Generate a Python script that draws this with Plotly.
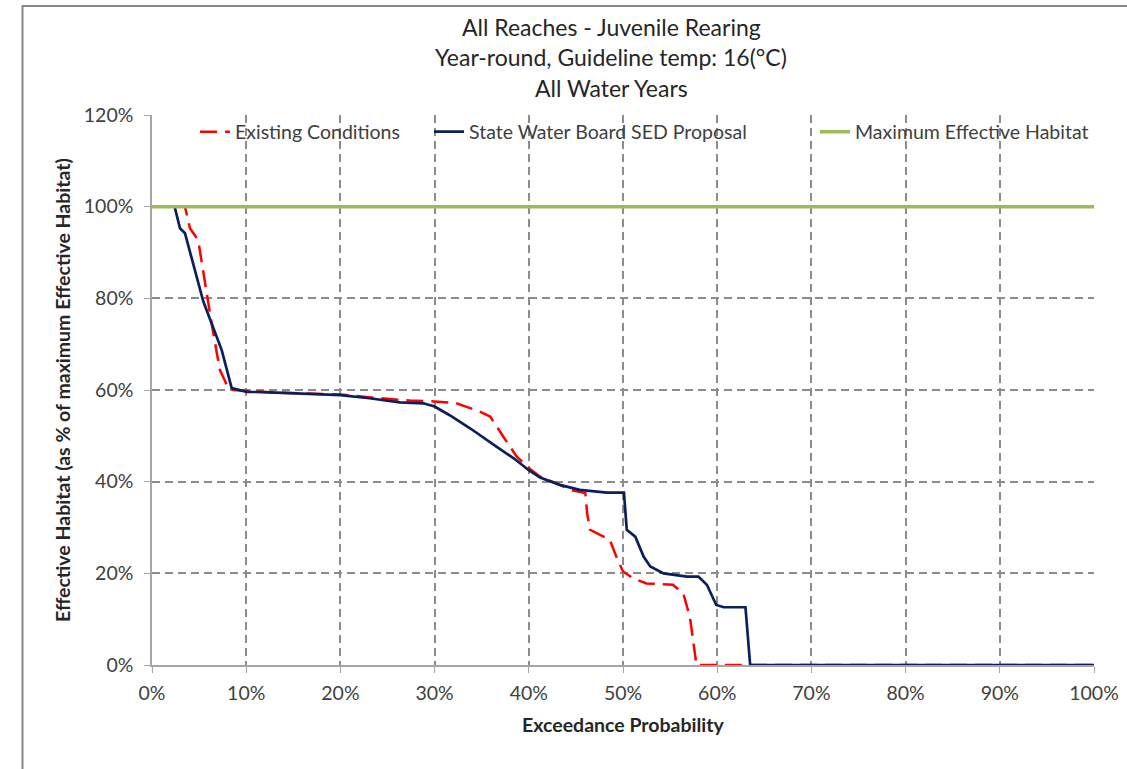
import plotly.graph_objects as go

# ---- data (exceedance probability %, effective habitat %) ----
existing_x = [0, 3.5, 4.03, 4.9, 6.33, 7.2, 8.1, 8.6, 12.5, 20, 24.2, 27.4, 30, 32.3, 34.8, 35.9,
              37.3, 38.7, 40, 41.2, 43.3, 44.4, 46.0, 46.2, 46.5, 47.6, 48.6, 49.3, 50, 51.1, 52.5,
              55.3, 56.4, 57.1, 57.8, 100]
existing_y = [100, 100, 95.3, 92.7, 74.5, 64.4, 60.4, 60.0, 59.5, 59.0, 58.2, 57.7, 57.5, 57.1, 55.3, 54.2,
              49.8, 45.5, 43.0, 41.1, 39.3, 38.2, 37.5, 33.0, 29.5, 28.4, 27.3, 23.6, 20.4, 18.9, 17.8,
              17.5, 15.6, 10.5, 0, 0]

sed_x = [0, 2.4, 2.97, 3.5, 5.45, 6.33, 7.4, 8.46, 10.05, 12.5, 20, 23.1, 26.3, 28.8, 30, 31.6, 33.8,
         36.6, 38.4, 40, 41.2, 43.3, 45.4, 48.3, 50.1, 50.4, 51.3, 52.2, 52.9, 54.3, 56.8, 58, 58.9,
         59.9, 60.7, 63.0, 63.5, 100]
sed_y = [100, 100, 95.3, 94.2, 79.3, 74.5, 68.7, 60.4, 59.6, 59.5, 58.9, 58.2, 57.3, 57.1, 56.4, 54.5, 51.6,
         47.6, 45.1, 42.5, 40.9, 39.3, 38.2, 37.6, 37.6, 29.5, 28.0, 23.6, 21.5, 20.0, 19.3, 19.3, 17.5,
         13.1, 12.6, 12.6, 0, 0]

max_x = [0, 100]
max_y = [100, 100]

x_ticks = [0, 10, 20, 30, 40, 50, 60, 70, 80, 90, 100]
x_tick_labels = ["0%", "10%", "20%", "30%", "40%", "50%", "60%", "70%", "80%", "90%", "100%"]
y_ticks = [0, 20, 40, 60, 80, 100, 120]
y_tick_labels = ["0%", "20%", "40%", "60%", "80%", "100%", "120%"]

title_lines = ["All Reaches - Juvenile Rearing", "Year-round, Guideline temp: 16(°C)", "All Water Years"]

FONT = "Lato"
TXT = "#404040"

fig = go.Figure()
fig.add_trace(go.Scatter(x=existing_x, y=existing_y, mode="lines", name="Existing Conditions",
                         line=dict(color="#FF0000", width=2.5, dash="17px,8px"), legend="legend"))
fig.add_trace(go.Scatter(x=sed_x, y=sed_y, mode="lines", name="State Water Board SED Proposal",
                         line=dict(color="#0B1F5C", width=2.7), legend="legend2"))
fig.add_trace(go.Scatter(x=max_x, y=max_y, mode="lines", name="Maximum Effective Habitat",
                         line=dict(color="#9BBB59", width=3.5), legend="legend3"))

# target plot area in page pixels (body margin removed via post_script)
L, R, T, B = 152, 1094, 115, 665
W, H = 1127, 769

def px(xp):
    return (xp - L) / (R - L)

def py(yp):
    return (B - yp) / (B - T)

legend_common = dict(orientation="h", bgcolor="rgba(0,0,0,0)", font=dict(family=FONT, size=19.5, color=TXT),
                     yanchor="middle", y=py(132))

annotations = []
for txt, ycen in zip(title_lines, [27, 57, 88]):
    annotations.append(dict(text=txt, x=px(611), y=py(ycen), xref="paper", yref="paper",
                            showarrow=False, xanchor="center", yanchor="middle",
                            font=dict(family=FONT, size=23, color="#262626")))

fig.update_layout(
    width=W, height=H,
    margin=dict(l=L, r=W - R, t=T, b=H - B, pad=0, autoexpand=False),
    paper_bgcolor="white", plot_bgcolor="white",
    showlegend=True,
    legend=dict(legend_common, x=px(195), xanchor="left"),
    legend2=dict(legend_common, x=px(429), xanchor="left"),
    legend3=dict(legend_common, x=1.0, xanchor="right"),
    annotations=annotations,
    shapes=[dict(type="rect", xref="paper", yref="paper", x0=px(22.5), x1=1.2, y0=-0.4, y1=py(6),
                 line=dict(color="#878787", width=2), layer="below")],
    xaxis=dict(range=[0, 100], tickvals=x_ticks, ticktext=x_tick_labels,
               showgrid=True, gridcolor="#8C8C8C", griddash="8px,5px", gridwidth=1.5,
               showline=True, linecolor="#A6A6A6", linewidth=1.5, zeroline=False,
               ticks="outside", ticklen=6, tickcolor="#A6A6A6",
               tickfont=dict(family=FONT, size=19.5, color=TXT), ticklabelstandoff=4,
               title=dict(text="<b>Exceedance Probability</b>", standoff=15,
                          font=dict(family=FONT, size=19.5, color="#262626"))),
    yaxis=dict(range=[0, 120], tickvals=y_ticks, ticktext=y_tick_labels,
               showgrid=True, gridcolor="#8C8C8C", griddash="8px,5px", gridwidth=1.5,
               showline=True, linecolor="#A6A6A6", linewidth=1.5, zeroline=False,
               ticks="outside", ticklen=6, tickcolor="#A6A6A6",
               tickfont=dict(family=FONT, size=19.5, color=TXT), ticklabelstandoff=7,
               title=dict(text="<b>Effective Habitat (as % of maximum Effective Habitat)</b>", standoff=8,
                          font=dict(family=FONT, size=19.5, color="#262626"))),
)

fig.write_html("out.html", config={"displayModeBar": False},
               post_script="document.body.style.margin='0';document.body.style.overflow='hidden';")
